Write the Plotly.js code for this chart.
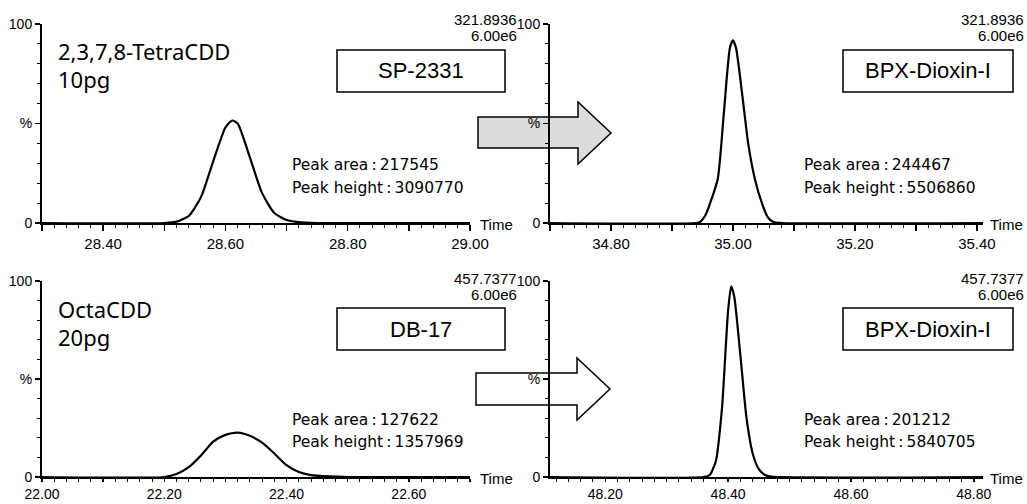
<!DOCTYPE html>
<html>
<head>
<meta charset="utf-8">
<script src="https://cdn.plot.ly/plotly-3.0.1.min.js"></script>
<style>html,body{margin:0;padding:0;background:#fff;}#chart{width:1027px;height:504px;}</style>
</head>
<body>
<div id="chart"></div>
<script>
// ---- data (time in min, intensity in % of 6.00e6) ----
const tlTime = [28.30, 28.50, 28.52, 28.54, 28.56, 28.58, 28.60, 28.611, 28.62, 28.64, 28.66, 28.68, 28.70, 28.72, 28.75, 29.00];
const tlInt  = [0, 0, 0.7, 3.5, 13, 31, 48, 51.5, 50, 33, 15, 5, 1.5, 0.4, 0, 0];

const trTime = [34.70, 34.94, 34.946, 34.955, 34.962, 34.975, 34.985, 34.995, 35.00, 35.005, 35.015, 35.025, 35.036, 35.048, 35.057, 35.066, 35.08, 35.41];
const trInt  = [0, 0, 0.5, 4, 9.5, 22, 55, 88, 91.8, 88, 65, 40, 22, 9.5, 3, 0.5, 0, 0];

const blTime = [22.00, 22.20, 22.22, 22.24, 22.26, 22.28, 22.30, 22.32, 22.34, 22.36, 22.38, 22.40, 22.42, 22.44, 22.47, 22.50, 22.70];
const blInt  = [0, 0, 1.5, 5, 11, 18, 21.5, 22.6, 21, 17.5, 12, 6, 2.5, 1, 0.3, 0, 0];

const brTime = [48.11, 48.36, 48.37, 48.38, 48.39, 48.40, 48.405, 48.41, 48.42, 48.43, 48.44, 48.45, 48.46, 48.47, 48.815];
const brInt  = [0, 0, 1, 8, 35, 85, 97.3, 92, 62, 30, 12, 4, 1, 0.2, 0];

const tlTickVals = [28.30, 28.40, 28.50, 28.60, 28.70, 28.80, 28.90, 29.00];
const tlTickText = ['', '28.40', '', '28.60', '', '28.80', '', '29.00'];
const trTickVals = [34.70, 34.80, 34.90, 35.00, 35.10, 35.20, 35.30, 35.40];
const trTickText = ['', '34.80', '', '35.00', '', '35.20', '', '35.40'];
const blTickVals = [22.00, 22.10, 22.20, 22.30, 22.40, 22.50, 22.60, 22.70];
const blTickText = ['22.00', '', '22.20', '', '22.40', '', '22.60', ''];
const brTickVals = [48.20, 48.30, 48.40, 48.50, 48.60, 48.70, 48.80];
const brTickText = ['48.20', '', '48.40', '', '48.60', '', '48.80'];

const yTickVals = [0, 50, 100];
const yTickText = ['0', '%', '100'];

const compounds = [['2,3,7,8-TetraCDD', '10pg'], ['OctaCDD', '20pg']];
const columns = [['SP-2331', 'BPX-Dioxin-I'], ['DB-17', 'BPX-Dioxin-I']];
const masses = ['321.8936', '457.7377'];
const scaleLabel = '6.00e6';
const peakAreas = [['217545', '244467'], ['127622', '201212']];
const peakHeights = [['3090770', '5506860'], ['1357969', '5840705']];

// ---- layout helpers ----
const W = 1027, H = 504;
const px = x => x / W;
const py = y => 1 - y / H;

const line = {color: '#000', width: 2.2};
const traces = [
  {x: tlTime, y: tlInt, xaxis: 'x', yaxis: 'y'},
  {x: trTime, y: trInt, xaxis: 'x2', yaxis: 'y2'},
  {x: blTime, y: blInt, xaxis: 'x3', yaxis: 'y3'},
  {x: brTime, y: brInt, xaxis: 'x4', yaxis: 'y4'}
].map(t => Object.assign(t, {type: 'scatter', mode: 'lines', line: Object.assign({shape: 'spline', smoothing: 0.6}, line), hoverinfo: 'skip', showlegend: false}));

function xax(domain, range, vals, text, anchor, tl, fs) {
  return {domain: domain, range: range, anchor: anchor, tickmode: 'array', tickvals: vals, ticktext: text,
    ticks: 'outside', ticklen: tl, tickwidth: 1.5, tickcolor: '#000', showline: true, linecolor: '#000', linewidth: 2,
    showgrid: false, zeroline: false, tickfont: {family: 'Liberation Sans, Arial, sans-serif', size: fs, color: '#000'}, fixedrange: true,
    minor: {dtick: 0.02, ticks: 'outside', ticklen: 3, tickwidth: 1, tickcolor: '#000', showgrid: false}};
}
function yax(domain, anchor) {
  return {domain: domain, range: [0, 100], anchor: anchor, tickmode: 'array', tickvals: yTickVals, ticktext: yTickText,
    ticks: 'outside', ticklen: 5, tickwidth: 1.5, tickcolor: '#000', showline: true, linecolor: '#000', linewidth: 2,
    showgrid: false, zeroline: false, tickfont: {family: 'Liberation Sans, Arial, sans-serif', size: 14, color: '#000'}, fixedrange: true,
    minor: {dtick: 10, ticks: 'outside', ticklen: 3, tickwidth: 1, tickcolor: '#000', showgrid: false}};
}
const leftDom = [px(42), px(470)], rightDom = [px(550), px(983)];
const topDom = [py(223), py(24)], botDom = [py(477), py(281)];

const annotations = [];
const shapes = [];
function txt(x, y, text, opts) {
  annotations.push(Object.assign({xref: 'paper', yref: 'paper', x: px(x), y: py(y), text: text, showarrow: false,
    xanchor: 'left', yanchor: 'middle', font: {family: 'Liberation Sans, Arial, sans-serif', size: 15, color: '#000'}}, opts || {}));
}
const rowTop = [0, 258];
for (let r = 0; r < 2; r++) {
  const o = rowTop[r];
  // compound names
  txt(56, 51 + o, compounds[r][0], {font: {family: 'Noto Sans, sans-serif', size: 22, color: '#000'}});
  txt(56, 79 + o, compounds[r][1], {font: {family: 'Noto Sans, sans-serif', size: 22, color: '#000'}});
  // mass / scale labels
  [519, 1026].forEach(xr => {
    txt(xr, 20 + o, masses[r], {xanchor: 'right'});
    txt(xr, 36 + o, scaleLabel, {xanchor: 'right'});
  });
  // Time labels
  txt(478, (r === 0 ? 224 : 478), 'Time');
  txt(988, (r === 0 ? 224 : 478), 'Time');
  // column boxes
  const boxes = [[337, 505], [843, 1013]];
  boxes.forEach((b, c) => {
    shapes.push({type: 'rect', xref: 'paper', yref: 'paper', x0: px(b[0]), x1: px(b[1]), y0: py(50 + o), y1: py(92 + o),
      line: {color: '#000', width: 1.5}, fillcolor: 'rgba(0,0,0,0)'});
    txt((b[0] + b[1]) / 2, 71 + o, columns[r][c], {xanchor: 'center', font: {family: 'Liberation Sans, Arial, sans-serif', size: 22, color: '#000'}});
  });
  // peak info
  const peakX = [290, 802];
  const pf = {family: 'DejaVu Sans, sans-serif', size: 15.5, color: '#000'};
  peakX.forEach((xx, c) => {
    txt(xx, (r === 0 ? 165 : 162) + o, 'Peak area\u2009:\u2009' + peakAreas[r][c], {font: pf});
    txt(xx, (r === 0 ? 188 : 184) + o, 'Peak height\u2009:\u2009' + peakHeights[r][c], {font: pf});
  });
}
// arrows
function pathOf(pts) { return 'M ' + pts.map(p => px(p[0]) + ',' + py(p[1])).join(' L ') + ' Z'; }
shapes.push({type: 'path', xref: 'paper', yref: 'paper', layer: 'below',
  path: pathOf([[478,117],[578,117],[578,102],[611,133],[578,164],[578,148],[478,148]]),
  fillcolor: '#dcdcdc', line: {color: '#000', width: 1.5}});
shapes.push({type: 'path', xref: 'paper', yref: 'paper', layer: 'below',
  path: pathOf([[476,373],[577,373],[577,358],[610,389],[577,420],[577,405],[476,405]]),
  fillcolor: '#ffffff', line: {color: '#000', width: 1.5}});

const layout = {
  width: W, height: H, margin: {l: 0, r: 0, t: 0, b: 0}, paper_bgcolor: '#fff', plot_bgcolor: 'rgba(0,0,0,0)',
  showlegend: false,
  xaxis: xax(leftDom, [28.30, 29.00], tlTickVals, tlTickText, 'y', 6, 15),
  yaxis: yax(topDom, 'x'),
  xaxis2: xax(rightDom, [34.70, 35.41], trTickVals, trTickText, 'y2', 6, 15),
  yaxis2: yax(topDom, 'x2'),
  xaxis3: xax(leftDom, [22.00, 22.70], blTickVals, blTickText, 'y3', 3, 14),
  yaxis3: yax(botDom, 'x3'),
  xaxis4: xax(rightDom, [48.11, 48.815], brTickVals, brTickText, 'y4', 3, 14),
  yaxis4: yax(botDom, 'x4'),
  annotations: annotations,
  shapes: shapes
};
Plotly.newPlot('chart', traces, layout, {displayModeBar: false, staticPlot: true});
</script>
</body>
</html>
